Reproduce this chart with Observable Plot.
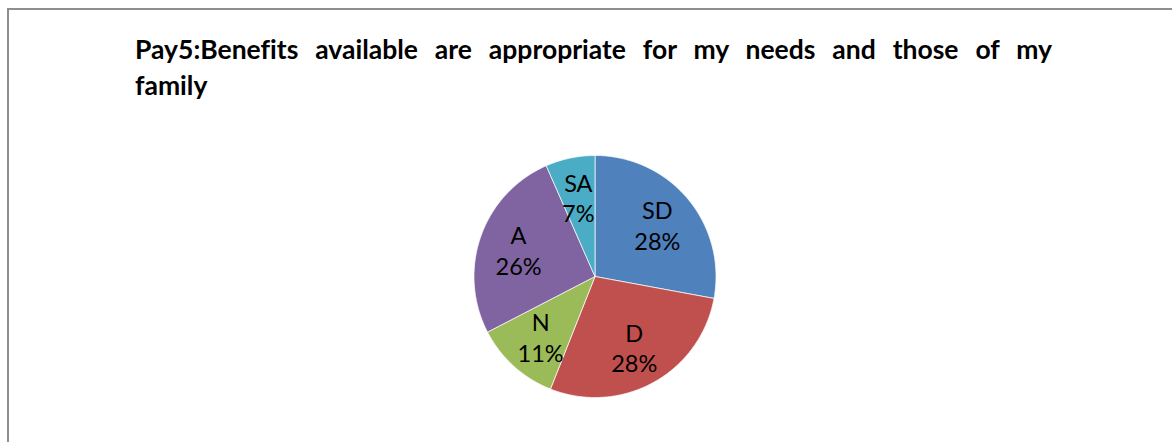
<!DOCTYPE html>
<html>
<head>
<meta charset="utf-8">
<script src="https://cdn.jsdelivr.net/npm/d3@7"></script>
<script src="https://cdn.jsdelivr.net/npm/@observablehq/plot@0.6"></script>
<style>
  html, body { margin: 0; padding: 0; background: #fff; }
  #wrap { position: relative; width: 1172px; height: 442px; overflow: hidden; background: #fff; }
  #frame { position: absolute; left: 7px; top: 8px; width: 1250px; height: 520px; border: 2px solid #8e8e8e; box-sizing: border-box; }
  .t { position: absolute; font-family: Lato, "Liberation Sans", sans-serif; font-weight: 700; font-size: 26.5px; line-height: 32px; color: #000; white-space: nowrap; font-variant-ligatures: none; font-feature-settings: "liga" 0; }
  #t1 { left: 135px; top: 33px; width: 917px; text-align: justify; text-align-last: justify; white-space: normal; }
  #t2 { left: 135px; top: 69px; }
  #chart { position: absolute; left: 0; top: 110px; }
</style>
</head>
<body>
<div id="wrap">
  <div id="frame"></div>
  <div class="t" id="t1">Pay5:Benefits available are appropriate for my needs and those of my</div>
  <div class="t" id="t2">family</div>
  <div id="chart"></div>
</div>
<script>
const titleText = "Pay5:Benefits available are appropriate for my needs and those of my family";
const categories = ["SD", "D", "N", "A", "SA"];
const values = [27.9, 28.1, 11.4, 26.0, 6.6];
const palette = ["#4F81BD", "#C0504D", "#9BBB59", "#8064A2", "#4BACC6"];

const W = 1172, H = 332;
const cx = 594.5, cy = 166, R = 121; // pie centre / radius in px of the svg
const total = d3.sum(values);

// Build slice outlines (angle measured clockwise from 12 o'clock)
const slices = [];
const labels = [];
let acc = 0;
categories.forEach((c, i) => {
  const a0 = acc / total * 2 * Math.PI;
  acc += values[i];
  const a1 = acc / total * 2 * Math.PI;
  const n = Math.max(2, Math.ceil((a1 - a0) / (Math.PI / 360)));
  slices.push({cat: c, x: 0, y: 0});
  for (let k = 0; k <= n; k++) {
    const a = a0 + (a1 - a0) * k / n;
    slices.push({cat: c, x: Math.sin(a), y: Math.cos(a)});
  }
  slices.push({cat: c, x: 0, y: 0});
  const am = (a0 + a1) / 2;
  labels.push({cat: c, x: 0.67 * Math.sin(am), y: 0.67 * Math.cos(am),
               text: `${c}\n${Math.round(values[i] / total * 100)}%`});
});

const chart = Plot.plot({
  width: W,
  height: H,
  margin: 0,
  x: {domain: [-cx / R, (W - cx) / R], axis: null},
  y: {domain: [-(H - cy) / R, cy / R], axis: null},
  color: {domain: categories, range: palette},
  style: {background: "transparent"},
  marks: [
    Plot.line(slices, {x: "x", y: "y", z: "cat", fill: "cat", stroke: "#ffffff", strokeWidth: 1, strokeOpacity: 0.7, strokeLinejoin: "round", curve: "linear"}),
    Plot.text(labels, {x: "x", y: "y", text: "text", fill: "#000", fontSize: 23.5, lineHeight: 1.3, fontFamily: "Lato, 'Liberation Sans', sans-serif", textAnchor: "middle", lineAnchor: "middle"})
  ]
});
document.getElementById("chart").appendChild(chart);
</script>
</body>
</html>
